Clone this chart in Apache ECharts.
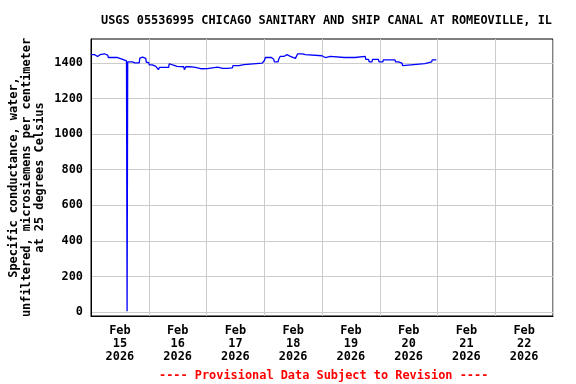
<!DOCTYPE html>
<html><head><meta charset="utf-8">
<script src="https://cdn.jsdelivr.net/npm/echarts@6/dist/echarts.min.js"></script>
<style>html,body{margin:0;padding:0;background:#fff}#c{width:576px;height:384px}</style>
</head><body><div id="c"></div>
<script>
// Hours since 2026-02-15 00:00 (local) at which the 15-minute reading changes
const hoursSinceStart = [0,1.7,3,4,5.8,7.2,11.3,13.4,15.0,15.25,16.5,17.2,18.2,20.3,21,21.7,23,24.2,25.8,27.2,28,28.5,32.5,32.9,34.8,36,38.8,39.4,41,43.1,45.9,48.6,52.8,55,55.5,57,59,61.7,63.8,71.4,72,72.5,75.2,76.2,78,78.6,80.4,81.7,83.1,85.2,85.9,88,89.3,96.2,97.6,99.7,105.5,106.3,110,114.2,115.6,117,118.5,119,119.7,121.5,126.6,128,129.5,130,139,141.8,143.75];
const conductance = [1446,1436,1446,1451,1443,1430,1420,1411,5,1405,1411,1405,1400,1427,1432,1425,1403,1389,1380,1375,1362,1375,1395,1386,1380,1378,1362,1378,1376,1367,1368,1376,1369,1362,1369,1372,1384,1390,1398,1403,1412,1430,1420,1405,1420,1436,1446,1436,1425,1436,1451,1446,1440,1430,1436,1430,1420,1430,1436,1420,1405,1420,1410,1420,1405,1417,1405,1398,1385,1396,1405,1417,1417];
const readingStep = 0.25; // 15-minute readings
const yTicks = [0,200,400,600,800,1000,1200,1400];
const dayBoundaries = [0,24,48,72,96,120,144,168,192];
const dayCenters = [12,36,60,84,108,132,156,180];
const dayLabels = ['Feb\n15\n2026','Feb\n16\n2026','Feb\n17\n2026','Feb\n18\n2026','Feb\n19\n2026','Feb\n20\n2026','Feb\n21\n2026','Feb\n22\n2026'];
const titleText = 'USGS 05536995 CHICAGO SANITARY AND SHIP CANAL AT ROMEOVILLE, IL';
const yName = 'Specific conductance, water,\nunfiltered, microsiemens per centimeter\nat 25 degrees Celsius';
const noteText = '---- Provisional Data Subject to Revision ----';

// Each reading is held until the next change (last reading before the change)
const lineData = [];
hoursSinceStart.forEach((h,i)=>{
  lineData.push([h, conductance[i]]);
  if (i < hoursSinceStart.length-1) {
    const end = hoursSinceStart[i+1] - readingStep;
    if (end > h) lineData.push([end, conductance[i]]);
  }
});

const FONT = 'DejaVu Sans Mono';
const FS = 11.9;
const chart = echarts.init(document.getElementById('c'), null, {renderer:'canvas'});
chart.setOption({
  animation:false,
  backgroundColor:'#fff',
  title:[
    {text:titleText, left:101, top:15, textStyle:{fontFamily:FONT, fontWeight:'bold', fontSize:FS, color:'#000'}, padding:0},
    {text:noteText, left:159, top:370, textStyle:{fontFamily:FONT, fontWeight:'bold', fontSize:FS, color:'#ff0000'}, padding:0}
  ],
  grid:{left:91, right:23, top:39, bottom:68, containLabel:false, outerBoundsMode:'none', show:true, borderColor:'#000', borderWidth:1, backgroundColor:'transparent'},
  xAxis:{
    type:'value', min:0, max:192,
    axisLine:{show:true, onZero:false, lineStyle:{color:'#000', width:1}},
    axisTick:{show:false, customValues:dayBoundaries},
    splitLine:{show:true, lineStyle:{color:'#cccccc', width:1}},
    axisLabel:{customValues:dayCenters, margin:8, fontFamily:FONT, fontWeight:'bold', fontSize:FS, color:'#000', lineHeight:13,
      formatter:function(v){ const i = dayCenters.indexOf(Math.round(v)); return i>=0 ? dayLabels[i] : ''; }}
  },
  yAxis:{
    type:'value', min:-22, max:1534,
    name:yName, nameLocation:'middle', nameRotate:90, nameGap:45, nameMoveOverlap:false,
    nameTextStyle:{fontFamily:FONT, fontWeight:'bold', fontSize:FS, color:'#000', lineHeight:13, align:'center'},
    axisLine:{show:true, onZero:false, lineStyle:{color:'#000', width:1}},
    axisTick:{show:false, customValues:yTicks},
    splitLine:{show:true, lineStyle:{color:'#cccccc', width:1}},
    axisLabel:{customValues:yTicks, margin:8, fontFamily:FONT, fontWeight:'bold', fontSize:FS, color:'#000',
      formatter:function(v){ return String(Math.round(v)); }}
  },
  series:[{
    type:'line', showSymbol:false, symbol:'none',
    data:lineData,
    lineStyle:{color:'#0000ff', width:1.3}
  }]
});
</script>
</body></html>
